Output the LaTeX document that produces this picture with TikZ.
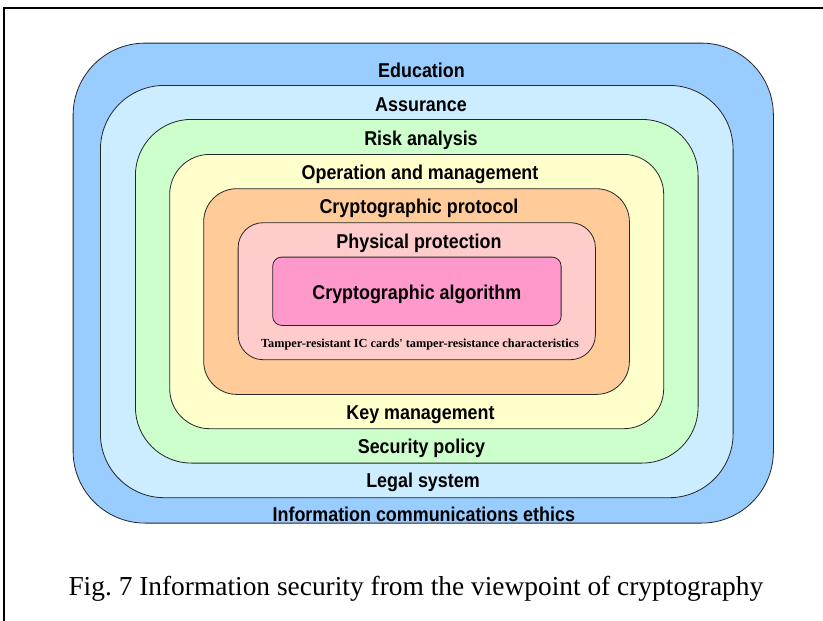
\documentclass[tikz,border=0pt]{standalone}
\usepackage{fontspec}
\newfontfamily\lblfont{Liberation Sans}[FakeStretch=0.895]
\newfontfamily\notefont{Liberation Serif}
\definecolor{cEdu}{RGB}{153,204,255}
\definecolor{cAss}{RGB}{204,236,255}
\definecolor{cRisk}{RGB}{204,255,204}
\definecolor{cOper}{RGB}{255,255,204}
\definecolor{cProt}{RGB}{255,204,153}
\definecolor{cPhys}{RGB}{255,204,204}
\definecolor{cAlgo}{RGB}{255,153,204}
\tikzset{
  layer/.style={draw=black!85, line width=0.8pt, inner sep=0pt, anchor=north west},
  lbl/.style={anchor=base, inner sep=0pt, font=\lblfont\bfseries\fontsize{20}{22}\selectfont},
  note/.style={anchor=base, inner sep=0pt, font=\notefont\bfseries\fontsize{12.3}{14}\selectfont},
  caption/.style={anchor=base west, inner sep=0pt, font=\notefont\fontsize{27.4}{30}\selectfont},
}
\begin{document}
\begin{tikzpicture}[x=1pt,y=-1pt]
\useasboundingbox (0,0) rectangle (823,621);
\fill[white] (0,0) rectangle (823,621);
% page frame
\draw[line width=2pt] (4,621) -- (4,7.8) -- (823,7.8);
% nested layers, outermost first
\node[layer, fill=cEdu,  rounded corners=72pt, minimum width=700.3pt, minimum height=480pt]   (edu)  at (72.7,42.7)  {};
\node[layer, fill=cAss,  rounded corners=64pt, minimum width=632.7pt, minimum height=412.3pt] (ass)  at (100,85)     {};
\node[layer, fill=cRisk, rounded corners=56pt, minimum width=562.7pt, minimum height=343.7pt] (risk) at (135,119)    {};
\node[layer, fill=cOper, rounded corners=40pt, minimum width=494pt,   minimum height=274.3pt] (oper) at (169.3,154)  {};
\node[layer, fill=cProt, rounded corners=33pt, minimum width=425.7pt, minimum height=205.7pt] (prot) at (203.3,188.3){};
\node[layer, fill=cPhys, rounded corners=25pt, minimum width=357.3pt, minimum height=137pt]   (phys) at (237.7,222.3){};
\node[layer, fill=cAlgo, rounded corners=9pt,  minimum width=288.4pt, minimum height=68.3pt]  (algo) at (272.3,256.7){};
% labels of the layers
\node[lbl] (tEdu)   at (421.5,77.7)  {Education};
\node[lbl] (tAss)   at (421,111.7) {Assurance};
\node[lbl] (tRisk)  at (421,145)   {Risk analysis};
\node[lbl] (tOper)  at (420,179.3) {Operation and management};
\node[lbl] (tProt)  at (419,213.7) {Cryptographic protocol};
\node[lbl] (tPhys)  at (419,248)   {Physical protection};
\node[lbl] (tAlgo)  at (416.8,299) {Cryptographic algorithm};
\node[note] (tTamp) at (420,347.3) {Tamper-resistant IC cards' tamper-resistance characteristics};
\node[lbl] (tKey)   at (420.5,419) {Key management};
\node[lbl] (tSec)   at (421.5,453.3) {Security policy};
\node[lbl] (tLegal) at (423,487.7) {Legal system};
\node[lbl] (tEth)   at (423.8,521.3) {Information communications ethics};
% caption
\node[caption] (cap) at (68.3,595.7) {Fig.\ 7 Information security from the viewpoint of cryptography};
\end{tikzpicture}
\end{document}
